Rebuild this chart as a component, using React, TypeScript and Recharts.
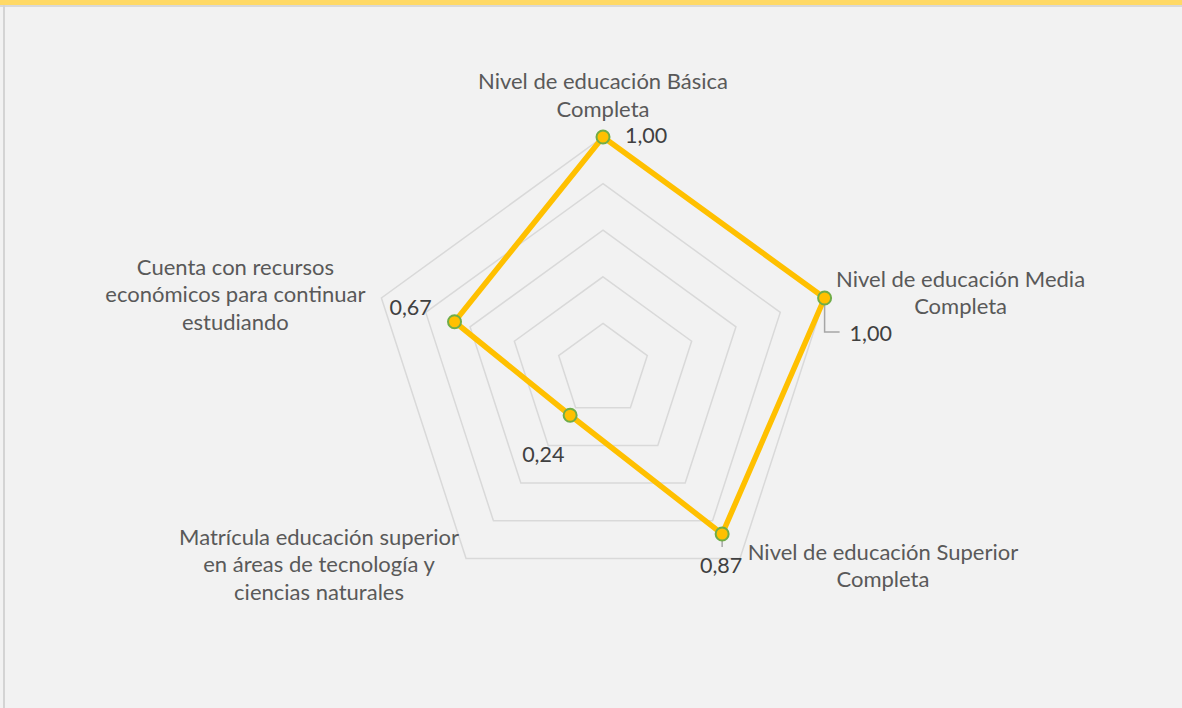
import React from 'react';
import { RadarChart, Radar, PolarGrid, PolarAngleAxis, PolarRadiusAxis } from 'recharts';

const categories: string[] = [
  'Nivel de educación Básica Completa',
  'Nivel de educación Media Completa',
  'Nivel de educación Superior Completa',
  'Matrícula educación superior en áreas de tecnología y ciencias naturales',
  'Cuenta con recursos económicos para continuar estudiando',
];
const categoryLines: string[][] = [
  ['Nivel de educación Básica', 'Completa'],
  ['Nivel de educación Media', 'Completa'],
  ['Nivel de educación Superior', 'Completa'],
  ['Matrícula educación superior', 'en áreas de tecnología y', 'ciencias naturales'],
  ['Cuenta con recursos', 'económicos para continuar', 'estudiando'],
];
const values: number[] = [1.0, 1.0, 0.87, 0.24, 0.67];
const gridTicks: number[] = [0.2, 0.4, 0.6, 0.8, 1.0];

const data = categories.map((c, i) => ({ category: c, value: values[i] }));

const OUTER_R = 233;
const FONT = 'Lato, "Open Sans", sans-serif';
const LABEL_COLOR = '#595959';
const VALUE_COLOR = '#404040';

const catLayout = [
  { dx: 0, dy: -48 },
  { dx: 136, dy: -11 },
  { dx: 143, dy: 1 },
  { dx: -147, dy: -14 },
  { dx: -146, dy: -23 },
];
const LINE_GAP = 27.5;

const valLayout = [
  { dx: 22, dy: 6, anchor: 'start', leader: null as null | number[][] },
  { dx: 25, dy: 43, anchor: 'start', leader: [[0, 0], [0, 34], [15, 34]] },
  { dx: -1, dy: 39, anchor: 'middle', leader: [[0, 0], [0, 13]] },
  { dx: -48, dy: 47, anchor: 'start', leader: null },
  { dx: -65, dy: -7, anchor: 'start', leader: null },
];

const fmt = (v: number) => v.toFixed(2).replace('.', ',');

const AngleTick = (props: any) => {
  const { payload, cx, cy, radius } = props;
  const idx = payload.index;
  const ang = (payload.coordinate * Math.PI) / 180;
  const vx = cx + radius * Math.cos(ang);
  const vy = cy - radius * Math.sin(ang);
  const lay = catLayout[idx];
  const lines = categoryLines[idx];
  return (
    <text
      x={vx + lay.dx}
      y={vy + lay.dy}
      textAnchor="middle"
      fill={LABEL_COLOR}
      fontFamily={FONT}
      fontSize={22}
    >
      {lines.map((l, i) => (
        <tspan key={i} x={vx + lay.dx} y={vy + lay.dy + i * LINE_GAP}>
          {l}
        </tspan>
      ))}
    </text>
  );
};

const renderDot = (props: any) => {
  const { cx, cy, index } = props;
  const lay = valLayout[index];
  const pts = lay.leader ? lay.leader.map((p) => `${cx + p[0]},${cy + p[1]}`).join(' ') : null;
  return (
    <g key={`dot-${index}`}>
      {pts && <polyline points={pts} fill="none" stroke="#a6a6a6" strokeWidth={1.5} />}
      <circle cx={cx} cy={cy} r={6.5} fill="#FFC000" stroke="#70AD47" strokeWidth={2} />
      <text
        x={cx + lay.dx}
        y={cy + lay.dy}
        textAnchor={lay.anchor as any}
        fill={VALUE_COLOR}
        fontFamily={FONT}
        fontSize={21.5}
      >
        {fmt(values[index])}
      </text>
    </g>
  );
};

export default function App() {
  return (
    <div
      style={{
        position: 'absolute',
        left: 0,
        top: 0,
        width: 1182,
        height: 708,
        background: '#f2f2f2',
        overflow: 'hidden',
      }}
    >
      <div style={{ position: 'absolute', left: 0, top: 0, width: 1182, height: 5, background: '#FFD966' }} />
      <div style={{ position: 'absolute', left: 0, top: 5, width: 1182, height: 1.5, background: '#d9d9d9' }} />
      <div style={{ position: 'absolute', left: 3, top: 5, width: 1.5, height: 703, background: '#d4d4d4' }} />
      <div style={{ position: 'absolute', left: 0, top: 0 }}>
        <RadarChart
          width={1182}
          height={708}
          data={data}
          cx={603}
          cy={370}
          outerRadius={OUTER_R}
          margin={{ top: 0, right: 0, bottom: 0, left: 0 }}
        >
          <PolarGrid
            gridType="polygon"
            radialLines={false}
            stroke="#d9d9d9"
            strokeWidth={1.5}
            polarRadius={gridTicks.map((t) => t * OUTER_R)}
          />
          <PolarAngleAxis dataKey="category" tick={<AngleTick />} tickLine={false} axisLine={false} />
          <PolarRadiusAxis domain={[0, 1]} tickCount={6} tick={false} axisLine={false} />
          <Radar
            dataKey="value"
            stroke="#FFC000"
            strokeWidth={5.5}
            fill="none"
            fillOpacity={0}
            dot={renderDot}
            isAnimationActive={false}
          />
        </RadarChart>
      </div>
    </div>
  );
}
